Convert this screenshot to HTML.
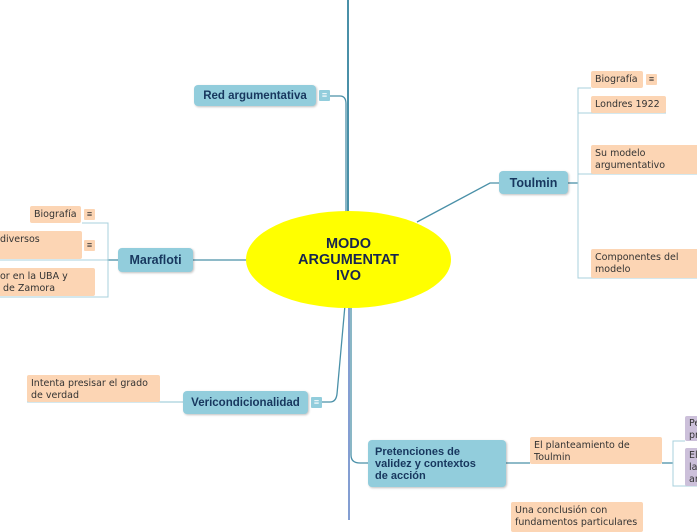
<!DOCTYPE html>
<html><head><meta charset="utf-8"><style>
body{margin:0;width:697px;height:520px;overflow:hidden;background:#fff;font-family:"Liberation Sans","DejaVu Sans",sans-serif;position:relative}
.b{position:absolute;box-sizing:border-box;border-radius:4px}
.m{background:#92cddc;color:#17375e;font-weight:bold;font-size:11.5px;box-shadow:1px 1px 2px rgba(0,0,0,.25);display:flex;align-items:center;justify-content:center}
.s{background:#fcd5b4;color:#333;font-family:"DejaVu Sans",sans-serif;font-size:9.5px;line-height:12px;padding:3px 4px;border-radius:2px;white-space:nowrap}
.p{background:#ccc0da;color:#333;font-family:"DejaVu Sans",sans-serif;font-size:9.5px;line-height:12px;padding:2px 4px;border-radius:2px}
.i{position:absolute;width:11px;height:11px;background:#fcd5b4;font-size:9px;line-height:11px;text-align:center;color:#333;border-radius:1px}
.ib{background:#92cddc;color:#fff}
</style></head><body>
<svg width="697" height="520" style="position:absolute;left:0;top:0">
<g fill="none" stroke="#4a90a8" stroke-width="1.3">
<line x1="348" y1="0" x2="348" y2="215" stroke-width="2"/>
<line x1="349" y1="300" x2="349" y2="520" stroke="#5b7fc4" stroke-width="1.5"/>
<path d="M330 96 H340 Q346 96 346 104 V212"/>
<path d="M417 222 L490 183 H499"/>
<path d="M193 260 H248"/>
<path d="M322 402 H330 Q336 402 337 394 L345 305"/>
<path d="M351 305 V455 Q351 463 360 463 H368"/>
<path d="M506 463 H530"/>
<path d="M568 183 H578"/>
<path d="M160 402 H183" stroke="#a8d0dc"/>
<path d="M107 260 H118"/>
<path d="M662 463 H673"/>
</g>
<g fill="none" stroke="#a8d0dc" stroke-width="1">
<path d="M591 88 H578 V278 H697"/>
<path d="M578 113 H666"/>
<path d="M578 174 H697"/>
<path d="M82 223 H108 V297 H0"/>
<path d="M0 260 H108"/>
<path d="M27 402 H160"/>
<path d="M685 441 H673 V486 H697"/>
</g>
</svg>
<div style="position:absolute;left:246px;top:211px;width:205px;height:97px;border-radius:50%;background:#ffff00;display:flex;align-items:center;justify-content:center;text-align:center;color:#17254f;font-weight:bold;font-size:14.5px;line-height:16px">MODO<br>ARGUMENTAT<br>IVO</div>

<div class="b m" style="left:194px;top:85px;width:122px;height:21px">Red argumentativa</div>
<div class="i ib" style="left:319px;top:90px">≡</div>
<div class="b m" style="left:499px;top:171px;width:69px;height:23px;font-size:12.5px">Toulmin</div>
<div class="b m" style="left:118px;top:248px;width:75px;height:24px;font-size:12.5px">Marafloti</div>
<div class="b m" style="left:183px;top:391px;width:125px;height:23px">Vericondicionalidad</div>
<div class="i ib" style="left:311px;top:397px">≡</div>
<div class="b m" style="left:368px;top:440px;width:138px;height:47px;justify-content:flex-start;padding-left:7px;font-size:11px;line-height:12px">Pretenciones de<br>validez y contextos<br>de acción</div>

<div class="b s" style="left:591px;top:71px;width:52px;height:17px">Biografía</div>
<div class="i" style="left:646px;top:74px">≡</div>
<div class="b s" style="left:591px;top:96px;width:75px;height:17px">Londres 1922</div>
<div class="b s" style="left:591px;top:145px;width:110px;height:29px">Su modelo<br>argumentativo</div>
<div class="b s" style="left:591px;top:249px;width:110px;height:29px">Componentes del<br>modelo</div>

<div class="b s" style="left:30px;top:206px;width:51px;height:17px">Biografía</div>
<div class="i" style="left:84px;top:209px">≡</div>
<div class="b s" style="left:-4px;top:231px;width:86px;height:28px">diversos</div>
<div class="i" style="left:84px;top:240px">≡</div>
<div class="b s" style="left:-4px;top:268px;width:99px;height:28px">or en la UBA y<br>&nbsp;de Zamora</div>

<div class="b s" style="left:27px;top:375px;width:133px;height:27px">Intenta presisar el grado<br>de verdad</div>
<div class="b s" style="left:530px;top:437px;width:132px;height:27px">El planteamiento de<br>Toulmin</div>
<div class="b p" style="left:685px;top:416px;width:30px;height:25px">Pe<br>pr</div>
<div class="b p" style="left:685px;top:448px;width:30px;height:38px">El<br>la<br>ar</div>
<div class="b s" style="left:511px;top:502px;width:132px;height:30px">Una conclusión con<br>fundamentos particulares</div>
</body></html>
